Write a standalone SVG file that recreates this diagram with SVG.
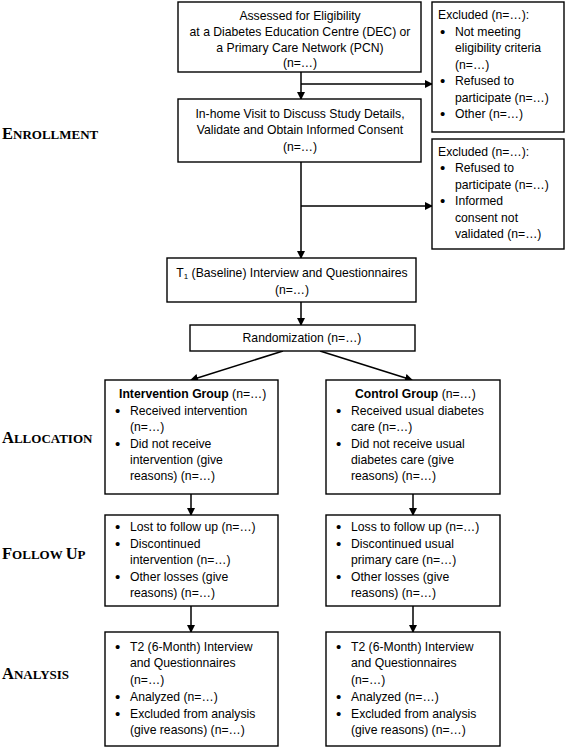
<svg xmlns="http://www.w3.org/2000/svg" width="567" height="749" viewBox="0 0 567 749">
<defs>
<marker id="ah" markerWidth="8" markerHeight="8" refX="7" refY="4" orient="auto" markerUnits="userSpaceOnUse">
<path d="M0,0 L8,4 L0,8 Z" fill="#000"/>
</marker>
<style>
.box{fill:#fff;stroke:#000;stroke-width:1.4}
.t{font-family:"Liberation Sans",Arial,sans-serif;font-size:12.2px;fill:#000}
.c{text-anchor:middle}
.b{font-weight:bold}
.bu{font-family:"Liberation Sans",Arial,sans-serif;font-size:15px;fill:#000}
.lab{font-family:"Liberation Serif","Times New Roman",serif;font-weight:bold;fill:#000;font-size:13px}
.cap{font-size:16.5px}
.con{stroke:#000;stroke-width:1.5;fill:none}
</style>
</defs>
<rect width="567" height="749" fill="#fff"/>

<g id="labels">
<text class="lab" x="2" y="139"><tspan class="cap">E</tspan>NROLLMENT</text>
<text class="lab" x="2" y="443"><tspan class="cap">A</tspan>LLOCATION</text>
<text class="lab" x="2" y="559"><tspan class="cap">F</tspan>OLLOW <tspan class="cap">U</tspan>P</text>
<text class="lab" x="2" y="679"><tspan class="cap">A</tspan>NALYSIS</text>
</g>

<g id="connectors">
<line class="con" x1="301" y1="72" x2="301" y2="99" marker-end="url(#ah)"/>
<line class="con" x1="301" y1="84" x2="432" y2="84" marker-end="url(#ah)"/>
<line class="con" x1="301" y1="162" x2="301" y2="258" marker-end="url(#ah)"/>
<line class="con" x1="301" y1="206" x2="432" y2="206" marker-end="url(#ah)"/>
<line class="con" x1="301" y1="302" x2="301" y2="325" marker-end="url(#ah)"/>
<line class="con" x1="283" y1="351" x2="191" y2="380" marker-end="url(#ah)"/>
<line class="con" x1="320" y1="351" x2="412" y2="380" marker-end="url(#ah)"/>
<line class="con" x1="191" y1="494" x2="191" y2="515" marker-end="url(#ah)"/>
<line class="con" x1="413" y1="494" x2="413" y2="515" marker-end="url(#ah)"/>
<line class="con" x1="191" y1="606" x2="191" y2="632" marker-end="url(#ah)"/>
<line class="con" x1="413" y1="606" x2="413" y2="632" marker-end="url(#ah)"/>
</g>

<g id="assessed">
<rect class="box" x="178" y="2" width="243" height="70"/>
<text class="t c" x="300" y="20">Assessed for Eligibility</text>
<text class="t c" x="300" y="36">at a Diabetes Education Centre (DEC) or</text>
<text class="t c" x="300" y="52">a Primary Care Network (PCN)</text>
<text class="t c" x="300" y="67">(n=…)</text>
</g>

<g id="excluded1">
<rect class="box" x="432" y="2" width="132" height="130"/>
<text class="t" x="438" y="19">Excluded (n=…):</text>
<text class="bu" x="440" y="37">•</text><text class="t" x="455" y="36">Not meeting</text>
<text class="t" x="455" y="52">eligibility criteria</text>
<text class="t" x="455" y="69">(n=…)</text>
<text class="bu" x="440" y="86">•</text><text class="t" x="455" y="85">Refused to</text>
<text class="t" x="455" y="102">participate (n=…)</text>
<text class="bu" x="440" y="119">•</text><text class="t" x="455" y="118">Other (n=…)</text>
</g>

<g id="inhome">
<rect class="box" x="178" y="99" width="243" height="63"/>
<text class="t c" x="300" y="118">In-home Visit to Discuss Study Details,</text>
<text class="t c" x="300" y="134">Validate and Obtain Informed Consent</text>
<text class="t c" x="300" y="151">(n=…)</text>
</g>

<g id="excluded2">
<rect class="box" x="432" y="139" width="132" height="110"/>
<text class="t" x="438" y="156">Excluded (n=…):</text>
<text class="bu" x="440" y="173">•</text><text class="t" x="455" y="172">Refused to</text>
<text class="t" x="455" y="189">participate (n=…)</text>
<text class="bu" x="440" y="206">•</text><text class="t" x="455" y="205">Informed</text>
<text class="t" x="455" y="222">consent not</text>
<text class="t" x="455" y="238">validated (n=…)</text>
</g>

<g id="baseline">
<rect class="box" x="167" y="258" width="249" height="44"/>
<text class="t c" x="292" y="277">T<tspan font-size="8" dy="2">1</tspan><tspan dy="-2"> (Baseline) Interview and Questionnaires</tspan></text>
<text class="t c" x="292" y="294">(n=…)</text>
</g>

<g id="randomization">
<rect class="box" x="190" y="325" width="225" height="26"/>
<text class="t c" x="302" y="342">Randomization (n=…)</text>
</g>

<g id="intervention">
<rect class="box" x="105" y="380" width="173" height="114"/>
<text class="t" x="119" y="398"><tspan class="b">Intervention Group</tspan> (n=…)</text>
<text class="bu" x="115" y="416">•</text><text class="t" x="130" y="415">Received intervention</text>
<text class="t" x="130" y="431">(n=…)</text>
<text class="bu" x="115" y="449">•</text><text class="t" x="130" y="448">Did not receive</text>
<text class="t" x="130" y="464">intervention (give</text>
<text class="t" x="130" y="480">reasons) (n=…)</text>
</g>

<g id="control">
<rect class="box" x="326" y="380" width="174" height="114"/>
<text class="t" x="355" y="398"><tspan class="b">Control Group</tspan> (n=…)</text>
<text class="bu" x="336" y="416">•</text><text class="t" x="351" y="415">Received usual diabetes</text>
<text class="t" x="351" y="431">care (n=…)</text>
<text class="bu" x="336" y="449">•</text><text class="t" x="351" y="448">Did not receive usual</text>
<text class="t" x="351" y="464">diabetes care (give</text>
<text class="t" x="351" y="480">reasons) (n=…)</text>
</g>

<g id="followup-intervention">
<rect class="box" x="105" y="515" width="173" height="91"/>
<text class="bu" x="115" y="532">•</text><text class="t" x="130" y="531">Lost to follow up (n=…)</text>
<text class="bu" x="115" y="549">•</text><text class="t" x="130" y="548">Discontinued</text>
<text class="t" x="130" y="564">intervention (n=…)</text>
<text class="bu" x="115" y="582">•</text><text class="t" x="130" y="581">Other losses (give</text>
<text class="t" x="130" y="597">reasons) (n=…)</text>
</g>

<g id="followup-control">
<rect class="box" x="326" y="515" width="174" height="91"/>
<text class="bu" x="336" y="532">•</text><text class="t" x="351" y="531">Loss to follow up (n=…)</text>
<text class="bu" x="336" y="549">•</text><text class="t" x="351" y="548">Discontinued usual</text>
<text class="t" x="351" y="564">primary care (n=…)</text>
<text class="bu" x="336" y="582">•</text><text class="t" x="351" y="581">Other losses (give</text>
<text class="t" x="351" y="597">reasons) (n=…)</text>
</g>

<g id="analysis-intervention">
<rect class="box" x="105" y="632" width="173" height="114"/>
<text class="bu" x="115" y="652">•</text><text class="t" x="130" y="651">T2 (6-Month) Interview</text>
<text class="t" x="130" y="667">and Questionnaires</text>
<text class="t" x="130" y="684">(n=…)</text>
<text class="bu" x="115" y="702">•</text><text class="t" x="130" y="701">Analyzed (n=…)</text>
<text class="bu" x="115" y="719">•</text><text class="t" x="130" y="718">Excluded from analysis</text>
<text class="t" x="130" y="734">(give reasons) (n=…)</text>
</g>

<g id="analysis-control">
<rect class="box" x="326" y="632" width="174" height="114"/>
<text class="bu" x="336" y="652">•</text><text class="t" x="351" y="651">T2 (6-Month) Interview</text>
<text class="t" x="351" y="667">and Questionnaires</text>
<text class="t" x="351" y="684">(n=…)</text>
<text class="bu" x="336" y="702">•</text><text class="t" x="351" y="701">Analyzed (n=…)</text>
<text class="bu" x="336" y="719">•</text><text class="t" x="351" y="718">Excluded from analysis</text>
<text class="t" x="351" y="734">(give reasons) (n=…)</text>
</g>
</svg>
